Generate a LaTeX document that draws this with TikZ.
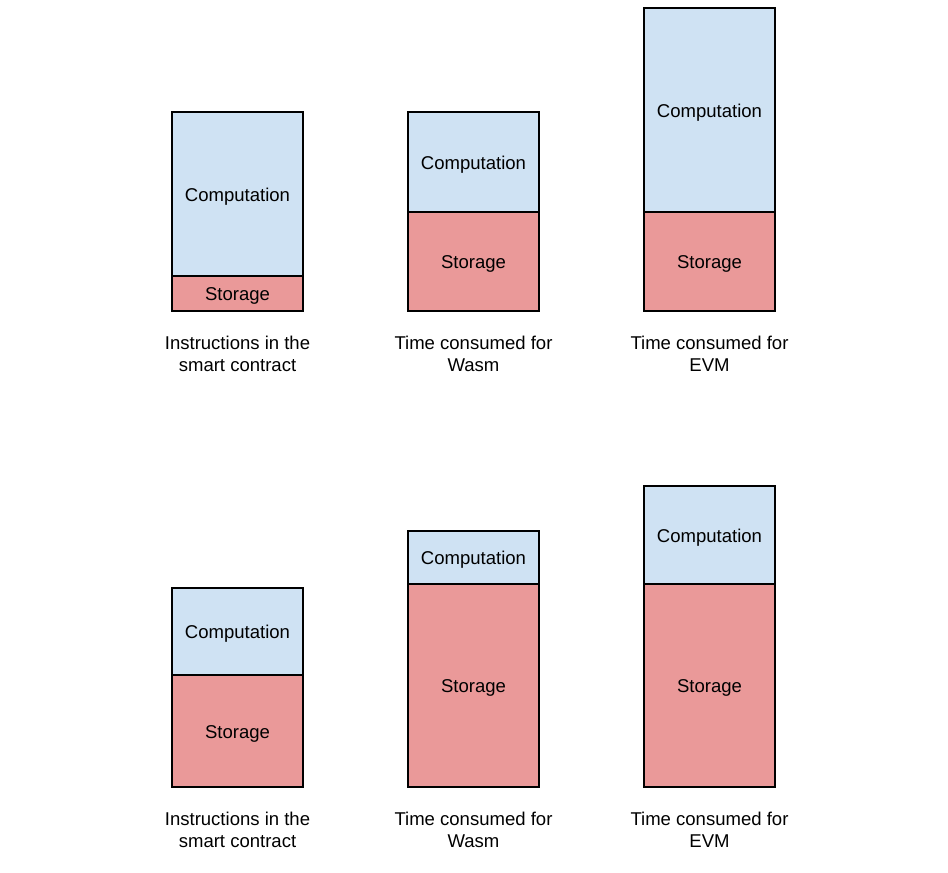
\documentclass[tikz,border=0pt]{standalone}
\usepackage{fontspec}
\setmainfont{Liberation Sans}
\definecolor{compblue}{HTML}{CFE2F3}
\definecolor{storred}{HTML}{EA9999}
\tikzset{
	comp/.style={fill=compblue, draw=black, line width=1.1pt},
	stor/.style={fill=storred, draw=black, line width=1.1pt},
	lbl/.style={align=center, inner sep=0pt, font=\fontsize{13.9}{16.5}\selectfont},
	txt/.style={inner sep=0pt, yshift=-2pt, font=\fontsize{13.9}{16.5}\selectfont}
}
\begin{document}
\begin{tikzpicture}[x=0.75pt, y=-0.75pt]
		\useasboundingbox (0,0) rectangle (948,872);
		% upper row
		\draw[comp] (172,112) rectangle node[txt] (ca1) {Computation} (303,276);
		\draw[stor] (172,276) rectangle node[txt] (sa1) {Storage} (303,311);
		\draw[comp] (408,112) rectangle node[txt] (ca2) {Computation} (539,212);
		\draw[stor] (408,212) rectangle node[txt] (sa2) {Storage} (539,311);
		\draw[comp] (644,8) rectangle node[txt] (ca3) {Computation} (775,212);
		\draw[stor] (644,212) rectangle node[txt] (sa3) {Storage} (775,311);
		\node[lbl] (la1) at (237.5,354) {Instructions in the\\smart contract};
		\node[lbl] (la2) at (473.5,354) {Time consumed for\\Wasm};
		\node[lbl] (la3) at (709.5,354) {Time consumed for\\EVM};
		% lower row
		\draw[comp] (172,588) rectangle node[txt] (cb1) {Computation} (303,675);
		\draw[stor] (172,675) rectangle node[txt] (sb1) {Storage} (303,787);
		\draw[comp] (408,531) rectangle node[txt] (cb2) {Computation} (539,584);
		\draw[stor] (408,584) rectangle node[txt] (sb2) {Storage} (539,787);
		\draw[comp] (644,486) rectangle node[txt] (cb3) {Computation} (775,584);
		\draw[stor] (644,584) rectangle node[txt] (sb3) {Storage} (775,787);
		\node[lbl] (lb1) at (237.5,830) {Instructions in the\\smart contract};
		\node[lbl] (lb2) at (473.5,830) {Time consumed for\\Wasm};
		\node[lbl] (lb3) at (709.5,830) {Time consumed for\\EVM};
\end{tikzpicture}
\end{document}
